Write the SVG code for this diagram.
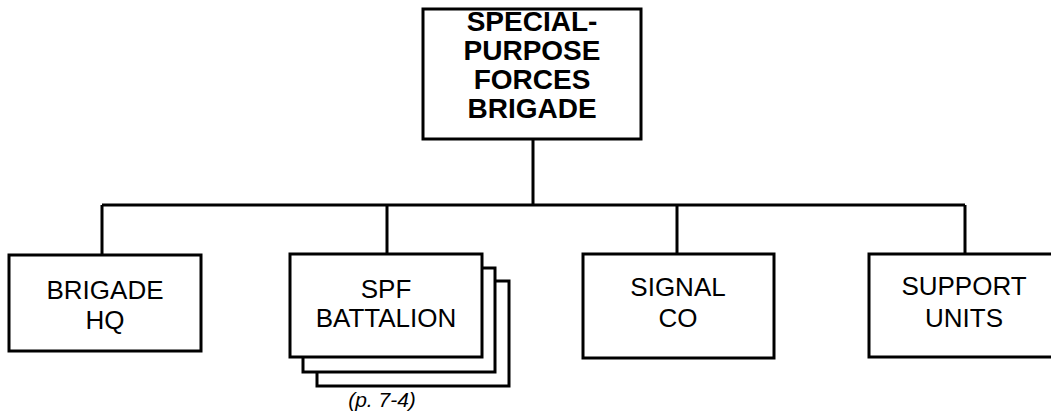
<svg xmlns="http://www.w3.org/2000/svg" width="1051" height="420" viewBox="0 0 1051 420">
<style>
.box{fill:#fff;stroke:#000;stroke-width:3}
.ln{fill:none;stroke:#000;stroke-width:3}
.t{font-family:"Liberation Sans",Arial,sans-serif;font-size:26px;text-anchor:middle;fill:#000}
.tb{font-family:"Liberation Sans",Arial,sans-serif;font-size:28px;font-weight:bold;text-anchor:middle;fill:#000}
.ti{font-family:"Liberation Sans",Arial,sans-serif;font-size:21px;font-style:italic;text-anchor:middle;fill:#000}
</style>
<rect width="1051" height="420" fill="#fff"/>
<g id="connectors">
<path class="ln" d="M533,139 V205 M102,205 H965 M102,205 V255 M387,205 V254 M677,205 V254 M965,205 V254"/>
</g>
<g id="brigade">
<rect class="box" x="423" y="9" width="218" height="130"/>
<text class="tb" x="532" y="31">SPECIAL-</text>
<text class="tb" x="532" y="60">PURPOSE</text>
<text class="tb" x="532" y="89">FORCES</text>
<text class="tb" x="532" y="118">BRIGADE</text>
</g>
<g id="brigade-hq">
<rect class="box" x="9" y="255" width="192" height="96"/>
<text class="t" x="105" y="299">BRIGADE</text>
<text class="t" x="105" y="329">HQ</text>
</g>
<g id="spf-battalion">
<rect class="box" x="317" y="281" width="192" height="105"/>
<rect class="box" x="303" y="268" width="192" height="104"/>
<rect class="box" x="290" y="254" width="192" height="103"/>
<text class="t" x="386" y="298">SPF</text>
<text class="t" x="386" y="327">BATTALION</text>
<text class="ti" x="382" y="407">(p. 7-4)</text>
</g>
<g id="signal-co">
<rect class="box" x="583" y="254" width="191" height="104"/>
<text class="t" x="678" y="296">SIGNAL</text>
<text class="t" x="678" y="327">CO</text>
</g>
<g id="support-units">
<rect class="box" x="869" y="254" width="192" height="103"/>
<text class="t" x="964" y="295">SUPPORT</text>
<text class="t" x="964" y="327">UNITS</text>
</g>
</svg>
